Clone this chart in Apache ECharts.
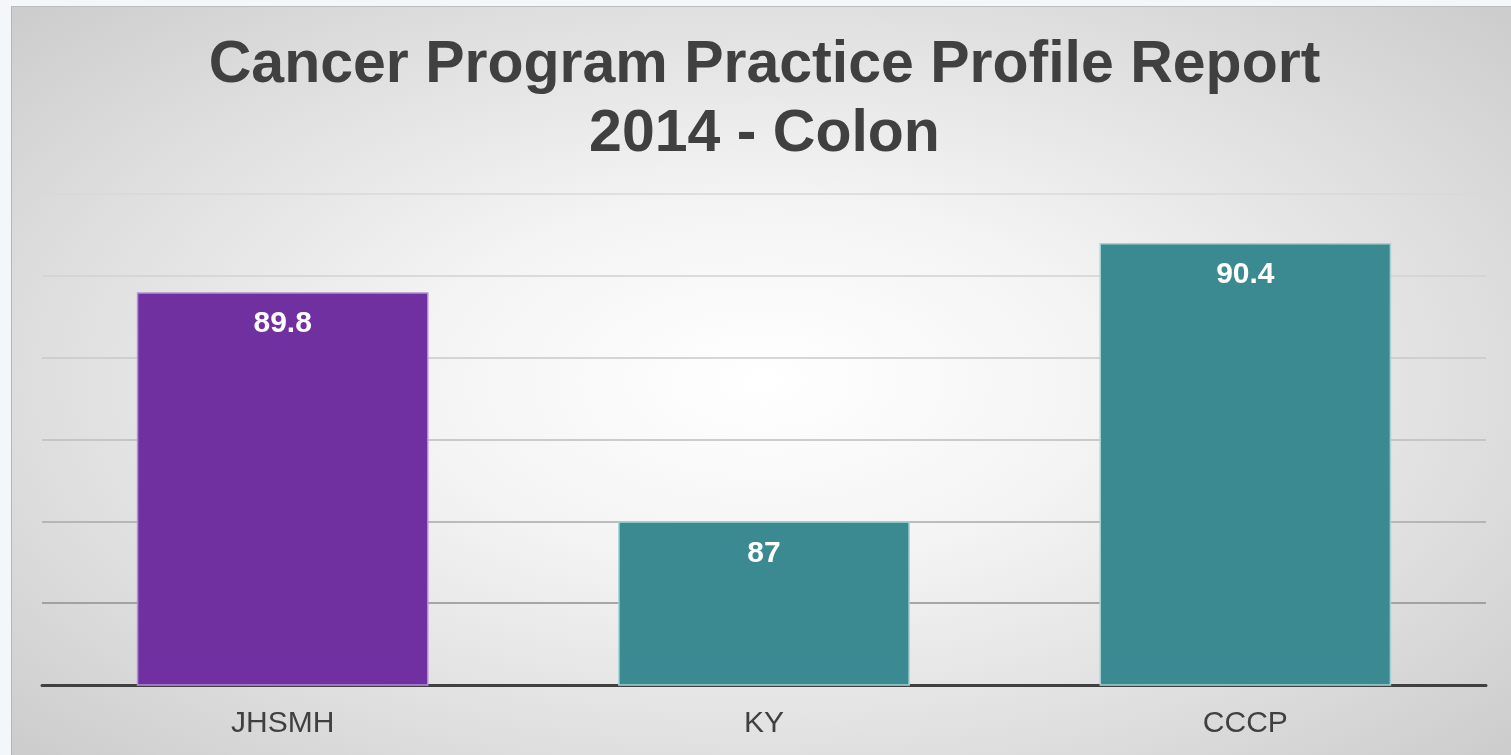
<!DOCTYPE html>
<html>
<head>
<meta charset="utf-8">
<script src="https://cdn.jsdelivr.net/npm/echarts@6/dist/echarts.min.js"></script>
<style>
  html, body { margin: 0; padding: 0; background: #f4f7f9; }
  #panel {
    position: absolute; left: 11px; top: 6px; width: 1500px; height: 749px;
    background: radial-gradient(ellipse 75% 80% at 50% 50%, #ffffff 0%, #f4f4f4 30%, #dedede 65%, #c6c6c6 100%);
    border-top: 1px solid #bdbdbd; border-left: 1px solid #b5b5b5;
  }
  #chart { position: absolute; left: 18px; top: 0; width: 1493px; height: 755px; }
</style>
</head>
<body>
<div id="panel"></div>
<div id="chart"></div>
<script>
// chart data
const categories = ['JHSMH', 'KY', 'CCCP'];
const values = [89.8, 87, 90.4];
const barColors = ['#7030A0', '#3C8A91', '#3C8A91'];
const borderColors = ['#b48fd6', '#a6d2d4', '#a6d2d4'];
const titleText = 'Cancer Program Practice Profile Report\n2014 - Colon';

const myChart = echarts.init(document.getElementById('chart'));
const option = {
  backgroundColor: 'transparent',
  title: {
    text: titleText,
    left: 'center',
    top: 26,
    textStyle: {
      fontFamily: 'Liberation Sans, Arial, sans-serif',
      fontSize: 59,
      fontWeight: 'bold',
      color: '#404040',
      lineHeight: 69
    }
  },
  grid: { left: 24, right: 25, top: 194, bottom: 70 },
  xAxis: {
    type: 'category',
    data: categories,
    axisTick: { show: false },
    axisLine: { lineStyle: { color: '#404040', width: 3 } },
    axisLabel: {
      margin: 24,
      fontFamily: 'Liberation Sans, Arial, sans-serif',
      fontSize: 30,
      color: '#404040'
    }
  },
  yAxis: {
    type: 'value',
    min: 85,
    max: 91,
    interval: 1,
    axisLabel: { show: false },
    axisLine: { show: false },
    axisTick: { show: false },
    splitLine: {
      lineStyle: {
        width: 1.5,
        color: ['#404040', '#8f8f8f', '#a8a8a8', '#bcbcbc', '#c8c8c8', '#d2d2d2', '#d8d8d8']
      }
    }
  },
  series: [{
    type: 'bar',
    barWidth: '60.6%',
    data: values.map((v, i) => ({
      value: v,
      itemStyle: { color: barColors[i], borderColor: borderColors[i], borderWidth: 1.5 }
    })),
    label: {
      show: true,
      position: 'insideTop',
      distance: 17,
      color: '#ffffff',
      fontFamily: 'Liberation Sans, Arial, sans-serif',
      fontSize: 30,
      fontWeight: 'bold'
    }
  }]
};
myChart.setOption(option);
</script>
</body>
</html>
